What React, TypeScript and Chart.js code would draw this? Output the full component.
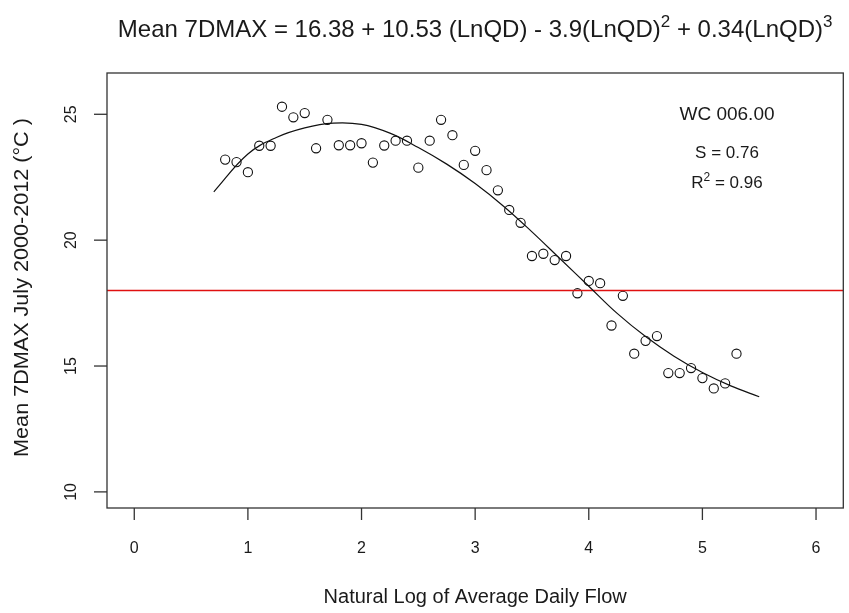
import { useEffect, useRef } from "react";
import { Chart, registerables } from "chart.js";

Chart.register(...registerables);

// ---- data ----
const pointX = [0.8, 0.9, 1.0, 1.1, 1.2, 1.3, 1.4, 1.5, 1.6, 1.7, 1.8, 1.9, 2.0, 2.1, 2.2, 2.3, 2.4, 2.5, 2.6, 2.7, 2.8, 2.9, 3.0, 3.1, 3.2, 3.3, 3.4, 3.5, 3.6, 3.7, 3.8, 3.9, 4.0, 4.1, 4.2, 4.3, 4.4, 4.5, 4.6, 4.7, 4.8, 4.9, 5.0, 5.1, 5.2, 5.3];
const pointY = [23.2, 23.1, 22.7, 23.75, 23.75, 25.3, 24.88, 25.05, 23.65, 24.78, 23.77, 23.77, 23.85, 23.08, 23.76, 23.95, 23.95, 22.88, 23.95, 24.78, 24.17, 22.99, 23.55, 22.78, 21.98, 21.2, 20.69, 19.37, 19.46, 19.21, 19.37, 17.89, 18.38, 18.29, 16.61, 17.79, 15.49, 16.0, 16.19, 14.72, 14.72, 14.92, 14.52, 14.11, 14.31, 15.49];

const curveX = [0.7, 1.0, 1.25, 1.5, 1.75, 2.0, 2.25, 2.5, 2.75, 3.0, 3.25, 3.5, 3.75, 4.0, 4.25, 4.5, 4.75, 5.0, 5.25, 5.5];
const curveY = [21.92, 23.42, 24.08, 24.46, 24.65, 24.6, 24.25, 23.68, 23.02, 22.25, 21.35, 20.33, 19.25, 18.17, 17.09, 16.17, 15.39, 14.74, 14.21, 13.78];

const thresholdY = 18;

const xTicks = [0, 1, 2, 3, 4, 5, 6];
const yTicks = [10, 15, 20, 25];
const xLimits = [-0.24, 6.24];
const yLimits = [9.36, 26.64];

const titleParts = [
  { t: "Mean 7DMAX = 16.38 + 10.53 (LnQD) - 3.9(LnQD)", sup: false },
  { t: "2", sup: true },
  { t: " + 0.34(LnQD)", sup: false },
  { t: "3", sup: true },
];
const xTitle = "Natural Log of Average Daily Flow";
const yTitle = "Mean 7DMAX July 2000-2012 (°C )";
const siteLabel = "WC 006.00";
const sLabel = "S = 0.76";
const r2Parts = [
  { t: "R", sup: false },
  { t: "2", sup: true },
  { t: " = 0.96", sup: false },
];

const FONT = "'Liberation Sans', Arial, sans-serif";
const INK = "#1a1a1a";

type Part = { t: string; sup: boolean };

function drawRich(
  ctx: CanvasRenderingContext2D,
  parts: Part[],
  cx: number,
  baseline: number,
  size: number,
  supSize: number,
  rise: number
) {
  const widths = parts.map((p) => {
    ctx.font = `${p.sup ? supSize : size}px ${FONT}`;
    return ctx.measureText(p.t).width;
  });
  const total = widths.reduce((a, b) => a + b, 0);
  let x = cx - total / 2;
  ctx.textAlign = "left";
  ctx.textBaseline = "alphabetic";
  parts.forEach((p, i) => {
    ctx.font = `${p.sup ? supSize : size}px ${FONT}`;
    ctx.fillText(p.t, x, p.sup ? baseline - rise : baseline);
    x += widths[i];
  });
}

const framePlugin = {
  id: "rframe",
  afterDraw(chart: any) {
    const { ctx, chartArea } = chart;
    const xs = chart.scales.x;
    const ys = chart.scales.y;
    const { left, right, top, bottom } = chartArea;
    ctx.save();
    // box
    ctx.strokeStyle = "#333";
    ctx.lineWidth = 1.3;
    ctx.strokeRect(left, top, right - left, bottom - top);

    // x ticks and labels
    ctx.fillStyle = INK;
    ctx.font = `16px ${FONT}`;
    ctx.textAlign = "center";
    ctx.textBaseline = "middle";
    xTicks.forEach((v) => {
      const px = xs.getPixelForValue(v);
      ctx.beginPath();
      ctx.moveTo(px, bottom);
      ctx.lineTo(px, bottom + 12);
      ctx.stroke();
      ctx.fillText(String(v), px, bottom + 41);
    });

    // y ticks and rotated labels
    yTicks.forEach((v) => {
      const py = ys.getPixelForValue(v);
      ctx.beginPath();
      ctx.moveTo(left, py);
      ctx.lineTo(left - 13, py);
      ctx.stroke();
      ctx.save();
      ctx.translate(left - 35, py);
      ctx.rotate(-Math.PI / 2);
      ctx.textAlign = "center";
      ctx.textBaseline = "middle";
      ctx.font = `16px ${FONT}`;
      ctx.fillText(String(v), 0, 0);
      ctx.restore();
    });

    // axis titles
    ctx.font = `20px ${FONT}`;
    ctx.textAlign = "center";
    ctx.textBaseline = "middle";
    ctx.fillText(xTitle, (left + right) / 2, 597);

    ctx.save();
    ctx.translate(22, (top + bottom) / 2 - 3);
    ctx.rotate(-Math.PI / 2);
    ctx.scale(1.08, 1);
    ctx.font = `20px ${FONT}`;
    ctx.textAlign = "center";
    ctx.textBaseline = "middle";
    ctx.fillText(yTitle, 0, 0);
    ctx.restore();

    // main title
    drawRich(ctx, titleParts, (left + right) / 2, 37, 24, 17, 10);

    // annotations
    ctx.font = `19px ${FONT}`;
    ctx.textAlign = "center";
    ctx.textBaseline = "middle";
    ctx.fillText(siteLabel, 727, 115);
    ctx.font = `17px ${FONT}`;
    ctx.fillText(sLabel, 727, 153);
    drawRich(ctx, r2Parts, 727, 188, 17, 12, 7);

    ctx.restore();
  },
};

export default function App() {
  const ref = useRef<HTMLCanvasElement | null>(null);

  useEffect(() => {
    if (!ref.current) return;
    const chart = new Chart(ref.current, {
      type: "scatter",
      data: {
        datasets: [
          {
            type: "line",
            label: "fit",
            data: curveX.map((x, i) => ({ x, y: curveY[i] })),
            borderColor: "#111",
            borderWidth: 1.2,
            pointRadius: 0,
            fill: false,
            tension: 0.4,
          } as any,
          {
            type: "line",
            label: "threshold",
            data: xLimits.map((x) => ({ x, y: thresholdY })),
            borderColor: "#e01010",
            borderWidth: 1.5,
            pointRadius: 0,
            fill: false,
          } as any,
          {
            label: "observed",
            data: pointX.map((x, i) => ({ x, y: pointY[i] })),
            pointStyle: "circle",
            pointRadius: 4.6,
            borderColor: "#111",
            borderWidth: 1.1,
            backgroundColor: "rgba(0,0,0,0)",
          },
        ],
      },
      options: {
        animation: false,
        responsive: false,
        devicePixelRatio: 1,
        layout: { padding: { left: 107, right: 2, top: 73, bottom: 105 } },
        plugins: { legend: { display: false }, tooltip: { enabled: false }, title: { display: false } },
        scales: {
          x: { type: "linear", min: xLimits[0], max: xLimits[1], display: false },
          y: { type: "linear", min: yLimits[0], max: yLimits[1], display: false },
        },
      },
      plugins: [framePlugin],
    });
    return () => chart.destroy();
  }, []);

  return (
    <div style={{ position: "fixed", left: 0, top: 0, width: 849, height: 613, background: "#fff" }}>
      <canvas ref={ref} width={849} height={613} style={{ display: "block", width: 849, height: 613 }} />
    </div>
  );
}
